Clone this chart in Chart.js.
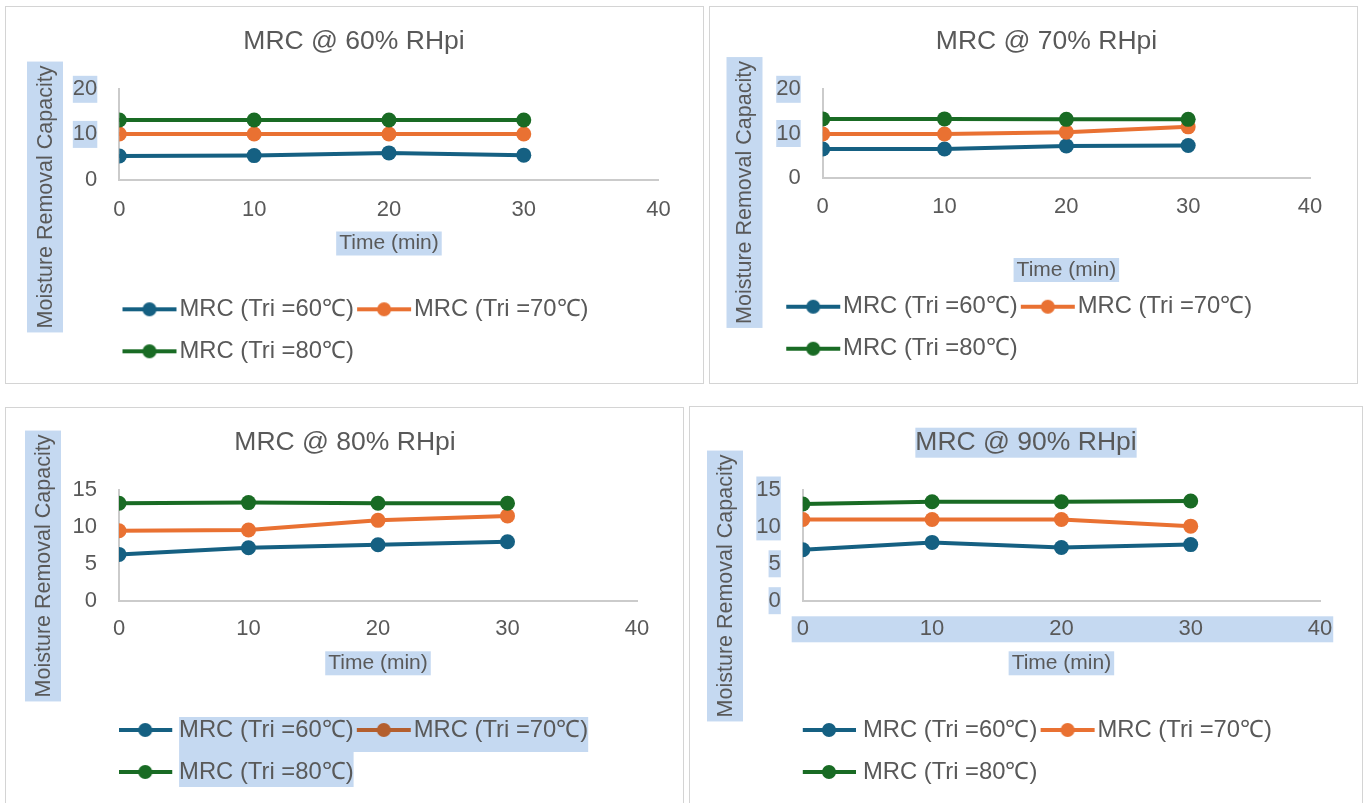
<!DOCTYPE html>
<html>
<head>
<meta charset="utf-8">
<script src="https://cdn.jsdelivr.net/npm/chart.js@4.4.1/dist/chart.umd.min.js"></script>
<style>
  body { margin: 0; background: #fff; width: 1364px; height: 803px; overflow: hidden; position: relative; }
  .panel { position: absolute; border: 1px solid #d4d4d4; background: #fff; }
</style>
</head>
<body>
<div class="panel" style="left:5px;top:6px;width:697px;height:376px"><canvas id="c60"></canvas></div>
<div class="panel" style="left:709px;top:6px;width:647px;height:376px"><canvas id="c70"></canvas></div>
<div class="panel" style="left:5px;top:407px;width:677px;height:398px"><canvas id="c80"></canvas></div>
<div class="panel" style="left:689px;top:406px;width:672px;height:398px"><canvas id="c90"></canvas></div>
<script>
// time points and tick labels
const times = [0, 10, 20, 30];
const xTicks = [0, 10, 20, 30, 40];
const yTicks20 = [0, 10, 20];
const yTicks15 = [0, 5, 10, 15];
const seriesNames = ['MRC (Tri =60℃)', 'MRC (Tri =70℃)', 'MRC (Tri =80℃)'];
const seriesColors = ['#156082', '#E97132', '#196B24'];
const chartTitles = ['MRC @ 60% RHpi', 'MRC @ 70% RHpi', 'MRC @ 80% RHpi', 'MRC @ 90% RHpi'];

// MRC values
const rh60_tri60 = [5.2, 5.3, 5.9, 5.4];
const rh60_tri70 = [10.1, 10.1, 10.1, 10.1];
const rh60_tri80 = [13.2, 13.2, 13.2, 13.2];

const rh70_tri60 = [6.5, 6.5, 7.2, 7.3];
const rh70_tri70 = [9.9, 9.9, 10.3, 11.5];
const rh70_tri80 = [13.3, 13.3, 13.2, 13.2];

const rh80_tri60 = [6.3, 7.2, 7.6, 8.0];
const rh80_tri70 = [9.5, 9.6, 10.9, 11.5];
const rh80_tri80 = [13.2, 13.3, 13.2, 13.2];

const rh90_tri60 = [6.9, 7.9, 7.2, 7.6];
const rh90_tri70 = [11.0, 11.0, 11.0, 10.1];
const rh90_tri80 = [13.1, 13.4, 13.4, 13.5];

const TEXT = '#595959';
const HL = '#c5d9f1';
const AXIS = '#cbcbcb';
const FAM = "'Liberation Sans', Arial, sans-serif";
const Y_TITLE = 'Moisture Removal Capacity';
const X_TITLE = 'Time (min)';
const TITLE_FONT = 26.5, LEG_FONT = 23.8, LEG_PAD = 18.2, TICK_FONT = 22, XT_FONT = 21, YT_FONT = 21.5;
const Y_TICK_GAP = 22;

Chart.defaults.font.family = FAM;
Chart.defaults.color = TEXT;

const measureCtx = document.createElement('canvas').getContext('2d');
function widest(vals) {
  measureCtx.font = `${TICK_FONT}px ${FAM}`;
  return Math.max(...vals.map(v => measureCtx.measureText(String(v)).width));
}

// line + dot legend symbol, placed so the line starts `shift` px from the item start
function legendIcon(color, bw, shift) {
  const half = Math.ceil(Math.max(Math.abs(shift - bw / 2), Math.abs(shift + 54 - bw / 2))) + 2;
  const c = document.createElement('canvas');
  c.width = half * 2; c.height = 20;
  const g = c.getContext('2d');
  const x0 = shift - bw / 2 + half;
  g.strokeStyle = color; g.lineWidth = 4;
  g.beginPath(); g.moveTo(x0, 10); g.lineTo(x0 + 54, 10); g.stroke();
  g.fillStyle = color;
  g.beginPath(); g.arc(x0 + 27, 10, 7, 0, Math.PI * 2); g.fill();
  return c;
}

// selection-style highlight boxes and the offset y-axis title
const decor = {
  id: 'decor',
  beforeDraw(chart, args, o) {
    const ctx = chart.ctx, ca = chart.chartArea;
    const xs = chart.scales.x, ys = chart.scales.y;
    ctx.save();
    ctx.fillStyle = HL;
    if (o.title) {
      ctx.font = `${TITLE_FONT}px ${FAM}`;
      const w = ctx.measureText(chart.options.plugins.title.text).width;
      const cy = chart.titleBlock.top + o.titleTop + TITLE_FONT * 0.6;
      const cx = (chart.titleBlock.left + chart.titleBlock.right) / 2;
      ctx.fillRect(cx - w / 2, cy - 15, w, 30);
    }
    ctx.font = `${TICK_FONT}px ${FAM}`;
    (o.yTicks || []).forEach(group => {
      const w = Math.max(...group.map(v => ctx.measureText(String(v)).width));
      const right = ca.left - Y_TICK_GAP;
      const top = ys.getPixelForValue(Math.max(...group)) - 13.5;
      const bot = ys.getPixelForValue(Math.min(...group)) + 13.5;
      ctx.fillRect(right - w, top, w, bot - top);
    });
    if (o.xTicks) {
      const first = xTicks[0], last = xTicks[xTicks.length - 1];
      const l = xs.getPixelForValue(first) - ctx.measureText(String(first)).width / 2 - 5;
      const r = xs.getPixelForValue(last) + ctx.measureText(String(last)).width / 2 + 1;
      const cy = ca.bottom + o.xTickPad + TICK_FONT * 0.6;
      ctx.fillRect(l, cy - 13, r - l, 26);
    }
    if (o.xTitle) {
      ctx.font = `${XT_FONT}px ${FAM}`;
      const w = ctx.measureText(X_TITLE).width + 6;
      const cx = (xs.left + xs.right) / 2;
      const cy = xs.bottom - o.xTitlePad - XT_FONT * 0.6;
      ctx.fillRect(cx - w / 2, cy - 12, w, 24);
    }
    if (o.legend) {
      const hb = chart.legend.legendHitBoxes;
      const bw = chart.options.plugins.legend.labels.pointStyleWidth;
      const tx = i => hb[i].left + bw + LEG_FONT / 2;
      const c1 = hb[0].top + hb[0].height / 2;
      ctx.fillRect(tx(0), c1 - 13, hb[1].left + hb[1].width - tx(0), 35);
      ctx.fillRect(tx(2), c1 + 22, hb[2].left + hb[2].width - tx(2), 35);
    }
    if (o.yTitlePos) {
      const [cx, cy] = o.yTitlePos;
      ctx.font = `${YT_FONT}px ${FAM}`;
      const w = ctx.measureText(Y_TITLE).width;
      ctx.fillStyle = HL;
      ctx.fillRect(cx - 18, cy - w / 2 - 4, 36, w + 8);
      ctx.translate(cx, cy);
      ctx.rotate(-Math.PI / 2);
      ctx.fillStyle = TEXT;
      ctx.textAlign = 'center';
      ctx.textBaseline = 'middle';
      ctx.fillText(Y_TITLE, 0, 1);
    }
    ctx.restore();
  }
};

const panels = [
  { id: 'c60', title: chartTitles[0], series: [rh60_tri60, rh60_tri70, rh60_tri80], yTicks: yTicks20,
    padL: 43.4, padR: 44.4, padB: 9.8, titlePad: [18.8, 31.7], chartLeft: 113.3, xH: 99.7, xTickPad: 17.3, xTitlePad: 23.1,
    legendFull: false, bw: 30, shifts: [-15, -15, -15], legendColors: seriesColors,
    hl: { yTicks: [[20], [10]], xTitle: true, yTitlePos: [39, 190] } },
  { id: 'c70', title: chartTitles[1], series: [rh70_tri60, rh70_tri70, rh70_tri80], yTicks: yTicks20,
    padL: 73, padR: 47, padB: 12.4, titlePad: [18.8, 31.7], chartLeft: 112.7, xH: 98.9, xTickPad: 15.8, xTitlePad: -6,
    legendFull: true, bw: 30, shifts: [-15, -15, -15], legendColors: seriesColors,
    hl: { yTicks: [[20], [10]], xTitle: true, yTitlePos: [34.5, 185.5] } },
  { id: 'c80', title: chartTitles[2], series: [rh80_tri60, rh80_tri70, rh80_tri80], yTicks: yTicks15,
    padL: 47, padR: 46, padB: 12.1, titlePad: [18.8, 31.4], chartLeft: 113, xH: 98.9, xTickPad: 15.1, xTitlePad: 24,
    legendFull: false, bw: 30, shifts: [-19, -15, -19], legendColors: ['#156082', '#b45f2e', '#196B24'],
    hl: { xTitle: true, legend: true, yTitlePos: [37, 158] } },
  { id: 'c90', title: chartTitles[3], series: [rh90_tri60, rh90_tri70, rh90_tri80], yTicks: yTicks15,
    padL: 42, padR: 42, padB: 11.1, titlePad: [19.8, 31.4], chartLeft: 112.8, xH: 99.2, xTickPad: 15.4, xTitlePad: 24,
    legendFull: false, bw: 30, shifts: [-19, -15, -19], legendColors: seriesColors,
    hl: { title: true, yTicks: [[15, 10], [5], [0]], xTicks: true, xTitle: true, yTitlePos: [35, 179] } }
];

panels.forEach(p => {
  const datasets = p.series.map((vals, i) => ({
    label: seriesNames[i],
    data: times.map((t, j) => ({ x: t, y: vals[j] })),
    borderColor: seriesColors[i],
    backgroundColor: seriesColors[i],
    borderWidth: 4,
    pointRadius: 7.5,
    pointHoverRadius: 7.5,
    pointBorderWidth: 0,
    tension: 0,
    order: 2 - i
  }));

  new Chart(document.getElementById(p.id), {
    type: 'line',
    data: { datasets },
    plugins: [decor],
    options: {
      responsive: true,
      maintainAspectRatio: false,
      animation: false,
      events: [],
      layout: { padding: { left: p.padL, right: p.padR, top: 0, bottom: p.padB } },
      scales: {
        x: {
          type: 'linear',
          min: xTicks[0], max: xTicks[xTicks.length - 1],
          ticks: { stepSize: xTicks[1] - xTicks[0], padding: p.xTickPad, font: { size: TICK_FONT }, color: TEXT, maxRotation: 0 },
          grid: { display: false, drawTicks: false },
          border: { color: AXIS, width: 2 },
          title: { display: true, text: X_TITLE, color: TEXT, font: { size: XT_FONT }, padding: { top: 0, bottom: p.xTitlePad } },
          afterFit: s => { s.height = p.xH; }
        },
        y: {
          min: p.yTicks[0], max: p.yTicks[p.yTicks.length - 1],
          // mirrored + far-aligned so labels sit right-aligned left of the axis without being clipped
          ticks: { stepSize: p.yTicks[1] - p.yTicks[0], mirror: true, crossAlign: 'far',
            padding: -(Y_TICK_GAP + widest(p.yTicks)), font: { size: TICK_FONT }, color: TEXT },
          grid: { display: false, drawTicks: false },
          border: { color: AXIS, width: 2 },
          afterFit: s => { s.width = p.chartLeft - p.padL; }
        }
      },
      plugins: {
        title: { display: true, text: p.title, color: TEXT, font: { size: TITLE_FONT, weight: 'normal' },
          padding: { top: p.titlePad[0], bottom: p.titlePad[1] } },
        legend: {
          position: 'bottom', fullSize: p.legendFull, align: 'start',
          labels: {
            usePointStyle: true, pointStyleWidth: p.bw, padding: LEG_PAD, color: TEXT,
            font: { size: LEG_FONT },
            generateLabels: chart => chart.data.datasets.map((ds, i) => ({
              text: ds.label, fillStyle: ds.borderColor, strokeStyle: ds.borderColor,
              lineWidth: 0, hidden: false, datasetIndex: i, fontColor: TEXT,
              pointStyle: legendIcon(p.legendColors[i], p.bw, p.shifts[i])
            }))
          }
        },
        tooltip: { enabled: false },
        decor: Object.assign({ titleTop: p.titlePad[0], xTickPad: p.xTickPad, xTitlePad: p.xTitlePad }, p.hl)
      }
    }
  });
});
</script>
</body>
</html>
